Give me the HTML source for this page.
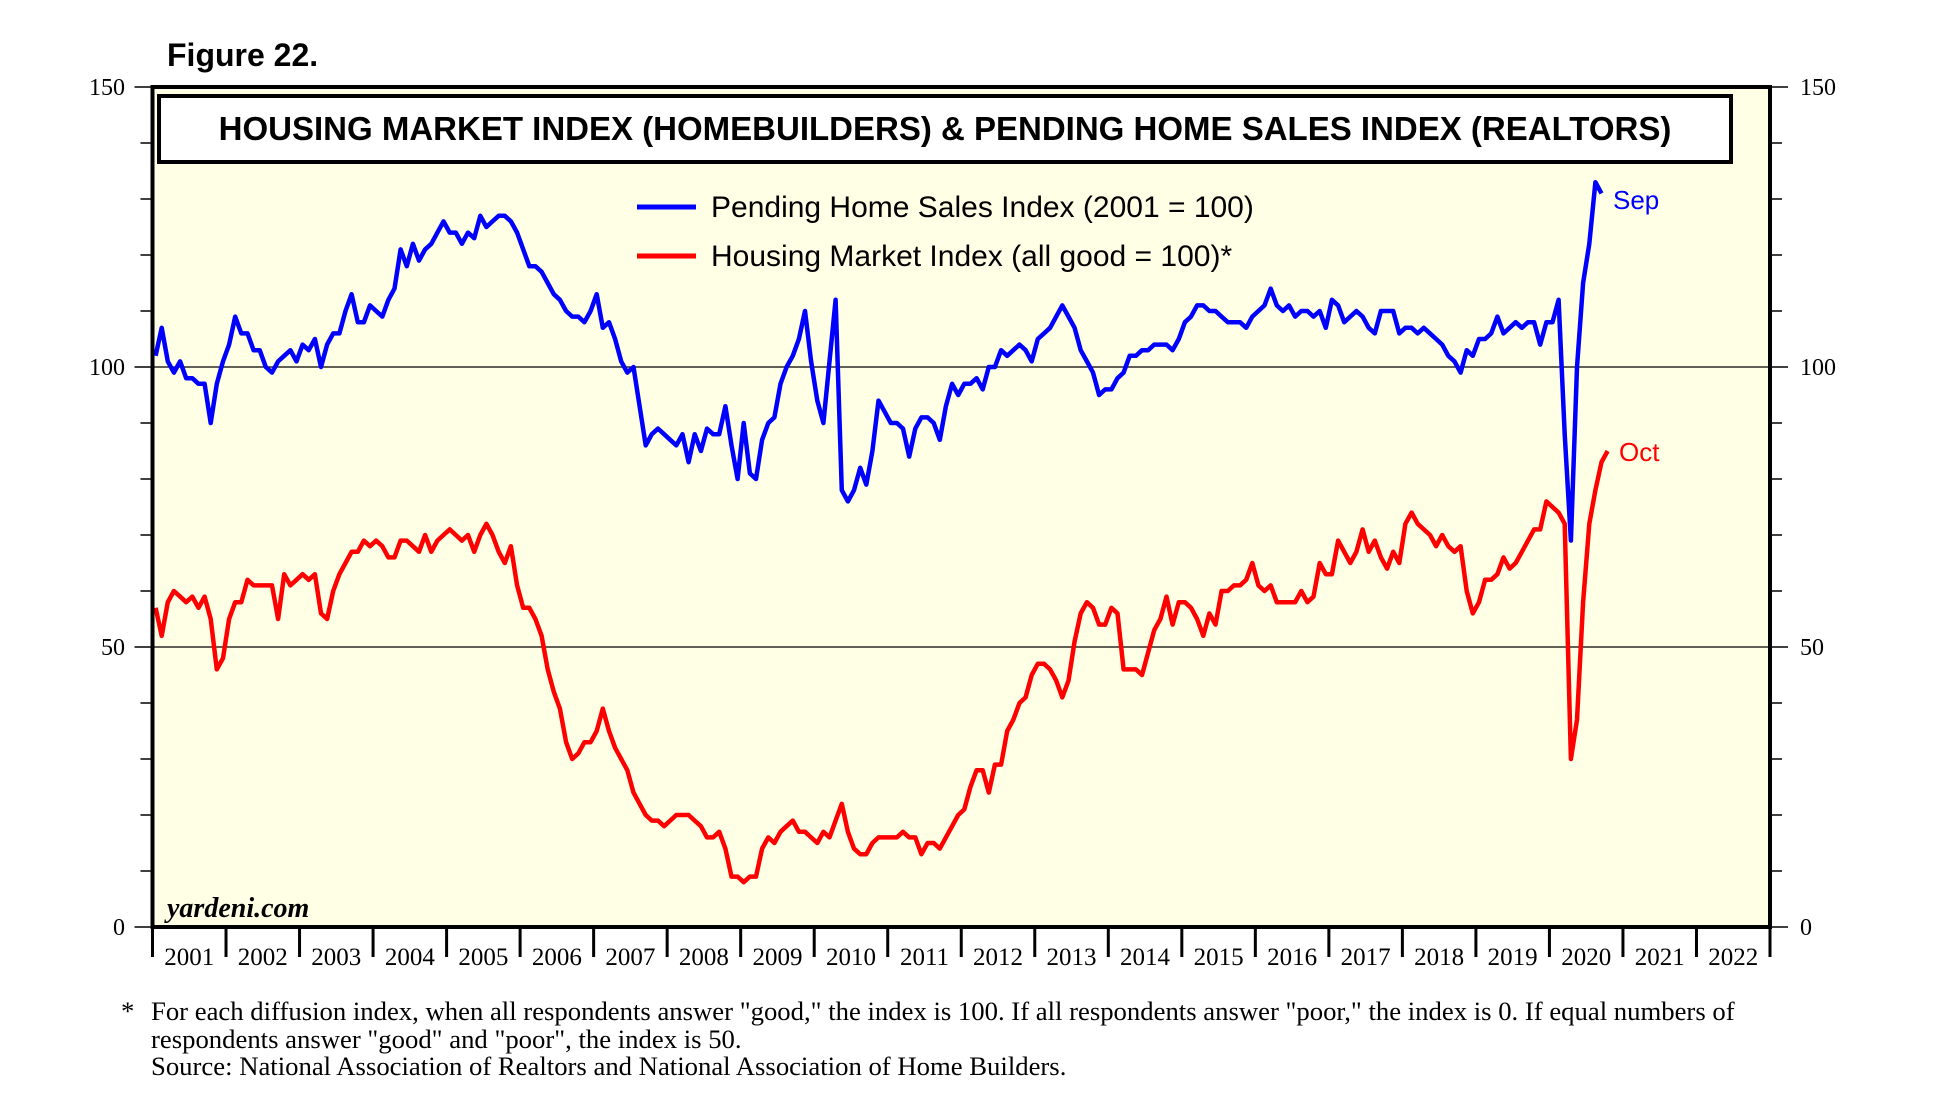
<!DOCTYPE html>
<html><head><meta charset="utf-8"><style>
body{margin:0;background:#fff;}
svg{display:block;}
</style></head><body>
<svg id="chart" width="1950" height="1114" viewBox="0 0 1950 1114" xmlns="http://www.w3.org/2000/svg">
<text x="167" y="66" font-family="Liberation Sans, sans-serif" font-weight="bold" font-size="32">Figure 22.</text>
<rect x="152.5" y="87" width="1617.5" height="840" fill="#ffffe6"/>
<g id="grid"></g>
<g id="ticks"></g>
<rect x="159" y="96" width="1572" height="66" fill="#fff" stroke="#000" stroke-width="4"/>
<text x="945" y="140" text-anchor="middle" font-family="Liberation Sans, sans-serif" font-weight="bold" font-size="33">HOUSING MARKET INDEX (HOMEBUILDERS) &amp; PENDING HOME SALES INDEX (REALTORS)</text>
<line x1="637" y1="207" x2="696" y2="207" stroke="#0000ff" stroke-width="5"/>
<text x="711" y="217" font-family="Liberation Sans, sans-serif" font-size="30">Pending Home Sales Index (2001 = 100)</text>
<line x1="637" y1="256" x2="696" y2="256" stroke="#ff0000" stroke-width="5"/>
<text x="711" y="266" font-family="Liberation Sans, sans-serif" font-size="30">Housing Market Index (all good = 100)*</text>
<g id="series"></g>
<text x="1613" y="209" fill="#0000ff" font-family="Liberation Sans, sans-serif" font-size="26">Sep</text>
<text x="1619" y="461" fill="#ff0000" font-family="Liberation Sans, sans-serif" font-size="26">Oct</text>
<text x="167" y="917" font-family="Liberation Serif, serif" font-style="italic" font-weight="bold" font-size="28">yardeni.com</text>
<rect x="152.5" y="87" width="1617.5" height="840" fill="none" stroke="#000" stroke-width="4"/>
<g font-family="Liberation Serif, serif" font-size="26.7">
<text x="121" y="1020">*</text>
<text x="151" y="1020">For each diffusion index, when all respondents answer "good," the index is 100. If all respondents answer "poor," the index is 0. If equal numbers of</text>
<text x="151" y="1048">respondents answer "good" and "poor", the index is 50.</text>
<text x="151" y="1075">Source: National Association of Realtors and National Association of Home Builders.</text>
</g>
</svg>
<script>
const years=["2001","2002","2003","2004","2005","2006","2007","2008","2009","2010","2011","2012","2013","2014","2015","2016","2017","2018","2019","2020","2021","2022"];
const yTicks=[0,50,100,150];
const pending=[102,107,101,99,101,98,98,97,97,90,97,101,
104,109,106,106,103,103,100,99,101,102,103,101,
104,103,105,100,104,106,106,110,113,108,108,111,
110,109,112,114,121,118,122,119,121,122,124,126,
124,124,122,124,123,127,125,126,127,127,126,124,
121,118,118,117,115,113,112,110,109,109,108,110,
113,107,108,105,101,99,100,93,86,88,89,88,
87,86,88,83,88,85,89,88,88,93,86,80,
90,81,80,87,90,91,97,100,102,105,110,101,
94,90,101,112,78,76,78,82,79,85,94,92,
90,90,89,84,89,91,91,90,87,93,97,95,
97,97,98,96,100,100,103,102,103,104,103,101,
105,106,107,109,111,109,107,103,101,99,95,96,
96,98,99,102,102,103,103,104,104,104,103,105,
108,109,111,111,110,110,109,108,108,108,107,109,
110,111,114,111,110,111,109,110,110,109,110,107,
112,111,108,109,110,109,107,106,110,110,110,106,
107,107,106,107,106,105,104,102,101,99,103,102,
105,105,106,109,106,107,108,107,108,108,104,108,
108,112,88,69,100,115,122,133,131];
const hmi=[57,52,58,60,59,58,59,57,59,55,46,48,
55,58,58,62,61,61,61,61,55,63,61,62,
63,62,63,56,55,60,63,65,67,67,69,68,
69,68,66,66,69,69,68,67,70,67,69,70,
71,70,69,70,67,70,72,70,67,65,68,61,
57,57,55,52,46,42,39,33,30,31,33,33,
35,39,35,32,30,28,24,22,20,19,19,18,
19,20,20,20,19,18,16,16,17,14,9,9,
8,9,9,14,16,15,17,18,19,17,17,16,
15,17,16,19,22,17,14,13,13,15,16,16,
16,16,17,16,16,13,15,15,14,16,18,20,
21,25,28,28,24,29,29,35,37,40,41,45,
47,47,46,44,41,44,51,56,58,57,54,54,
57,56,46,46,46,45,49,53,55,59,54,58,
58,57,55,52,56,54,60,60,61,61,62,65,
61,60,61,58,58,58,58,60,58,59,65,63,
63,69,67,65,67,71,67,69,66,64,67,65,
72,74,72,71,70,68,70,68,67,68,60,56,
58,62,62,63,66,64,65,67,69,71,71,76,
75,74,72,30,37,58,72,78,83,85];
const L=152.5,R=1770,T=87,B=927;
const yw=(R-L)/years.length;
function xm(i){return L+(i+0.5)*yw/12;}
function ys(v){return B-(v/150)*(B-T);}
const NS="http://www.w3.org/2000/svg";
const grid=document.getElementById('grid'),ticks=document.getElementById('ticks'),series=document.getElementById('series');
function mk(tag,attrs,parent){const e=document.createElementNS(NS,tag);for(const k in attrs)e.setAttribute(k,attrs[k]);parent.appendChild(e);return e;}
[50,100].forEach(v=>{
const g=mk('line',{x1:L,x2:R,y1:ys(v),y2:ys(v),stroke:'#000','stroke-width':1.2},grid);


});
for(let v=0;v<=150;v+=10){
const maj=v%50===0;
const t1=mk('line',{x1:L-(maj?18:12),x2:L,y1:ys(v),y2:ys(v),stroke:'#000','stroke-width':1.5},ticks);


const t2=mk('line',{x1:R,x2:R+(maj?18:12),y1:ys(v),y2:ys(v),stroke:'#000','stroke-width':1.5},ticks);


}
yTicks.forEach(v=>{
const a=mk('text',{x:125,y:ys(v)+8,'text-anchor':'end','font-family':'Liberation Serif, serif','font-size':24},ticks);a.textContent=v;


const b=mk('text',{x:1800,y:ys(v)+8,'font-family':'Liberation Serif, serif','font-size':24},ticks);b.textContent=v;


});
years.forEach((y,i)=>{
const x0=L+i*yw;
const tk=mk('line',{x1:x0,x2:x0,y1:B,y2:B+30,stroke:'#000','stroke-width':3},ticks);


const t=mk('text',{x:x0+yw/2,y:965,'text-anchor':'middle','font-family':'Liberation Serif, serif','font-size':25},ticks);t.textContent=y;


});
const ex=mk('line',{x1:R,x2:R,y1:B,y2:B+30,stroke:'#000','stroke-width':3},ticks);


function line(arr,color,name){
const p=mk('polyline',{points:arr.map((v,i)=>xm(i).toFixed(1)+','+ys(v).toFixed(1)).join(' '),fill:'none',stroke:color,'stroke-width':4.5,'stroke-linejoin':'round'},series);


}
line(hmi,'#ff0000','hmi-line');
line(pending,'#0000ff','pending-line');
</script>
</body></html>
